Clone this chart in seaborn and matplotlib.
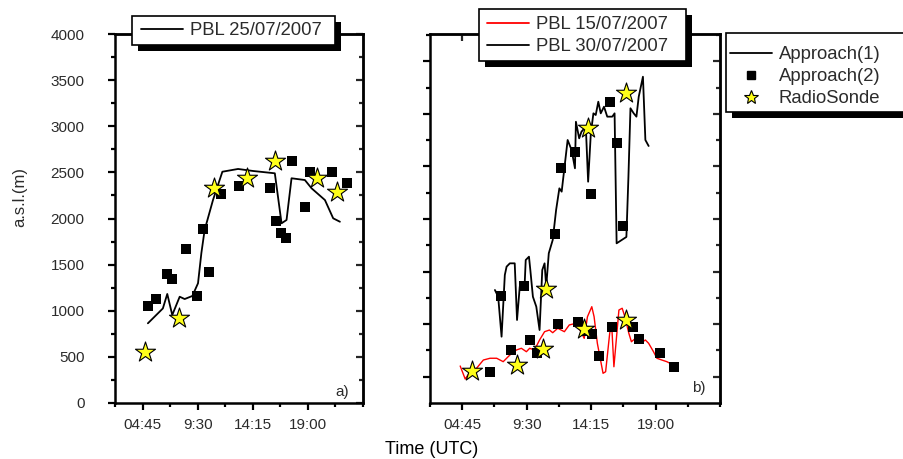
import numpy as np
import pandas as pd
import matplotlib
matplotlib.use("Agg")
import matplotlib.pyplot as plt
import seaborn as sns
from matplotlib.lines import Line2D
from matplotlib.patches import Rectangle
from matplotlib.transforms import IdentityTransform

# ---------------- datos (hora decimal UTC, altura m) ----------------
# panel a) 25/07/2007
a_line_t = [5.21, 6.50, 6.88, 7.31, 7.95, 8.38, 9.04, 9.53, 9.82, 10.10, 10.82, 11.63,
            12.98, 14.28, 16.15, 16.73, 17.16, 17.59, 18.74, 19.32, 20.47, 21.18, 21.76]
a_line_h = [864, 1025, 1182, 954, 1152, 1127, 1160, 1298, 1626, 1875, 2200, 2507,
            2537, 2515, 2490, 1948, 1984, 2436, 2417, 2327, 2200, 2002, 1965]
a_sq_t = [5.21, 5.87, 6.85, 7.31, 8.52, 9.47, 9.93, 10.45, 11.55, 13.07, 15.72, 16.24,
          16.67, 17.10, 17.59, 18.74, 19.22, 21.10, 22.34]
a_sq_h = [1051, 1127, 1398, 1344, 1666, 1160, 1883, 1423, 2262, 2356, 2327, 1970,
          1846, 1785, 2623, 2121, 2504, 2501, 2382]
a_rs_t = [4.92, 7.86, 10.91, 13.76, 16.15, 19.75, 21.48]
a_rs_h = [556, 918, 2334, 2442, 2623, 2442, 2291]

# panel b) 15/07/2007 (rojo)
r_line_t = [4.60, 4.97, 5.33, 5.70, 6.31, 6.80, 7.29, 7.77, 8.26, 8.75, 9.11, 9.48,
            9.72, 10.08, 10.45, 10.82, 11.18, 11.42, 11.79, 12.28, 12.64, 13.13, 13.50,
            13.74, 13.98, 14.30, 14.47, 14.71, 15.13, 15.32, 15.62, 15.76, 15.93, 16.30,
            16.54, 16.74, 17.03, 17.22, 17.52, 17.88, 18.25, 18.49, 18.85, 19.10, 19.46,
            19.83, 20.07]
r_line_h = [401, 260, 339, 358, 466, 485, 485, 448, 520, 575, 593, 556,
            593, 575, 683, 773, 791, 762, 810, 773, 846, 864, 773,
            701, 935, 1044, 935, 647, 322, 339, 756, 864, 393, 1008,
            1027, 935, 756, 664, 701, 647, 683, 647, 556, 485, 466,
            448, 430]
r_sq_t = [6.80, 8.31, 9.77, 10.25, 11.79, 13.32, 13.77, 14.35, 14.83, 15.81, 17.32,
          17.81, 19.34, 20.34]
r_sq_h = [339, 575, 683, 539, 853, 881, 784, 745, 510, 827, 827, 694, 545, 387]
r_rs_t = [5.46, 8.79, 10.74, 13.74, 16.79]
r_rs_h = [347, 412, 585, 799, 900]

# panel b) 30/07/2007 (negro)
k_line_t = [7.16, 7.40, 7.65, 7.89, 8.02, 8.26, 8.62, 8.79, 8.99, 9.35, 9.43, 9.67,
            9.77, 9.96, 10.21, 10.45, 10.65, 10.82, 10.94, 11.13, 11.42, 11.67, 11.91,
            12.08, 12.52, 12.81, 13.06, 13.13, 13.37, 13.54, 13.86, 14.03, 14.23, 14.42,
            14.59, 14.78, 14.96, 15.20, 15.44, 15.81, 15.98, 16.13, 16.85, 17.00, 17.15,
            17.39, 17.59, 17.76, 18.07, 18.25, 18.49]
k_line_h = [1225, 1152, 719, 1388, 1478, 1514, 1514, 900, 1261, 1279, 1550, 1586,
            1442, 1152, 1044, 791, 1442, 1514, 1261, 1623, 1767, 2092, 2327,
            2291, 2851, 2743, 2544, 3049, 2869, 2941, 2995, 2399, 2924, 3140,
            3122, 3266, 3140, 3212, 3104, 3104, 3140, 1731, 1800, 2450, 3195,
            3140, 3104, 3320, 3537, 2851, 2786]
k_sq_t = [7.58, 9.28, 11.62, 12.04, 13.08, 14.23, 15.64, 16.13, 16.59]
k_sq_h = [1160, 1272, 1829, 2544, 2724, 2266, 3266, 2822, 1922]
k_rs_t = [10.94, 14.03, 16.83]
k_rs_h = [1236, 2978, 3357]

x_major = [4.75, 9.5, 14.25, 19.0]
x_labels = ["04:45", "9:30", "14:15", "19:00"]
x_minor = [2.375, 7.125, 11.875, 16.625, 21.375, 23.75]

# =========================
# FIGURA
# =========================
sns.set_theme(style="ticks")
plt.rcParams["font.family"] = ["Liberation Sans", "DejaVu Sans"]

W, H = 904, 459
fig = plt.figure(figsize=(W / 100, H / 100), dpi=100)
ax1 = fig.add_axes([115 / W, 56 / H, 248 / W, 369 / H], facecolor="white")
ax2 = fig.add_axes([430 / W, 56 / H, 290 / W, 369 / H], facecolor="white")

txt_col = "#2b2b2b"
STAR = "#ffff1a"


def puntos(ax, t, h, t_sq, h_sq, t_rs, h_rs, color, lw):
    sns.lineplot(x=t, y=h, ax=ax, color=color, lw=lw, sort=False, zorder=2)
    sns.scatterplot(x=t_sq, y=h_sq, ax=ax, marker="s", s=50, color="black",
                    edgecolor="black", linewidth=0, zorder=3)
    sns.scatterplot(x=t_rs, y=h_rs, ax=ax, marker="*", s=230, color=STAR,
                    edgecolor="black", linewidth=0.8, zorder=4)


puntos(ax1, a_line_t, a_line_h, a_sq_t, a_sq_h, a_rs_t, a_rs_h, "black", 1.3)
puntos(ax2, r_line_t, r_line_h, r_sq_t, r_sq_h, r_rs_t, r_rs_h, "red", 1.0)
puntos(ax2, k_line_t, k_line_h, k_sq_t, k_sq_h, k_rs_t, k_rs_h, "black", 1.3)

# ejes y ticks
y_major_a = np.arange(0, 4001, 500)
y_minor_a = np.arange(250, 4000, 500)
y_major_b = [285, 855, 1425, 1995, 2565, 3135, 3705]
y_minor_b = [570, 1140, 1710, 2280, 2850, 3420, 3990]

for ax, ymaj, ymin in [(ax1, y_major_a, y_minor_a), (ax2, y_major_b, y_minor_b)]:
    ax.set_xlim(2.375, 23.75)
    ax.set_ylim(0, 4000)
    ax.set_xlabel("")
    ax.set_ylabel("")
    ax.set_xticks(x_major)
    ax.set_xticklabels(x_labels)
    ax.set_xticks(x_minor, minor=True)
    ax.set_yticks(ymaj)
    ax.set_yticks(ymin, minor=True)
    for s in ax.spines.values():
        s.set_visible(True)
        s.set_linewidth(1.8)
        s.set_color("black")
    ax.tick_params(which="major", direction="out", length=5, width=1.6,
                   labelsize=11, labelcolor=txt_col, color="black")
    ax.tick_params(which="minor", direction="out", length=3, width=1.6, color="black")
    ax.tick_params(axis="x", pad=6)
    ax.tick_params(axis="y", pad=17)

    sy = ax.secondary_yaxis("right")
    sy.set_yticks(ymaj)
    sy.set_yticks(ymin, minor=True)
    sy.tick_params(which="major", direction="in", length=5, width=1.6, labelright=False)
    sy.tick_params(which="minor", direction="in", length=3, width=1.6)
    sy.spines["right"].set_linewidth(1.8)

    sx = ax.secondary_xaxis("top")
    sx.set_xticks(x_major)
    sx.tick_params(direction="in", length=5, width=1.6, labeltop=False)
    sx.spines["top"].set_linewidth(1.8)

ax2.tick_params(axis="y", labelleft=False)

ax1.text(0.945, 0.03, "a)", transform=ax1.transAxes, ha="right", va="center",
         fontsize=11, color=txt_col)
ax2.text(0.95, 0.04, "b)", transform=ax2.transAxes, ha="right", va="center",
         fontsize=11, color=txt_col)

fig.text(20 / W, 1 - 197 / H, "a.s.l.(m)", rotation=90, ha="center", va="center",
         fontsize=12, color=txt_col)
fig.text(432 / W, 1 - 450 / H, "Time (UTC)", ha="center", va="center",
         fontsize=13, color="black")

# =========================
# LEYENDAS (caja con sombra negra, en pixeles)
# =========================
def caja(x0, y0, x1, y1, off=6):
    sombra = Rectangle((x0 + off, H - y1 - off), x1 - x0, y1 - y0,
                       transform=IdentityTransform(), facecolor="black",
                       edgecolor="none", zorder=4.9)
    marco = Rectangle((x0, H - y1), x1 - x0, y1 - y0,
                      transform=IdentityTransform(), facecolor="white",
                      edgecolor="black", lw=1.2, zorder=4.95)
    fig.add_artist(sombra)
    fig.add_artist(marco)


ley_kw = dict(loc="upper left", frameon=False, borderaxespad=0, borderpad=0,
              fontsize=13.3, handlelength=2.3, handletextpad=0.35, labelspacing=0.27)

caja(132, 16, 335, 45)
leg1 = fig.legend([Line2D([], [], color="black", lw=1.3)], ["PBL 25/07/2007"],
                  bbox_to_anchor=(141 / W, 1 - 22 / H), **ley_kw)

caja(479, 9, 686, 61)
leg2 = fig.legend([Line2D([], [], color="red", lw=1.3),
                   Line2D([], [], color="black", lw=1.3)],
                  ["PBL 15/07/2007", "PBL 30/07/2007"],
                  bbox_to_anchor=(487 / W, 1 - 16 / H), **ley_kw)

caja(726, 33, 920, 112)
leg3 = fig.legend([Line2D([], [], color="black", lw=1.3),
                   Line2D([], [], color="black", marker="s", ms=6, lw=0),
                   Line2D([], [], color=STAR, marker="*", ms=10, mec="black", mew=0.8, lw=0)],
                  ["Approach(1)", "Approach(2)", "RadioSonde"],
                  bbox_to_anchor=(730 / W, 1 - 46 / H), **ley_kw)

for leg in (leg1, leg2, leg3):
    leg.set_zorder(5)
    for t in leg.get_texts():
        t.set_color(txt_col)

fig.savefig("out.png", dpi=100, facecolor="white")
